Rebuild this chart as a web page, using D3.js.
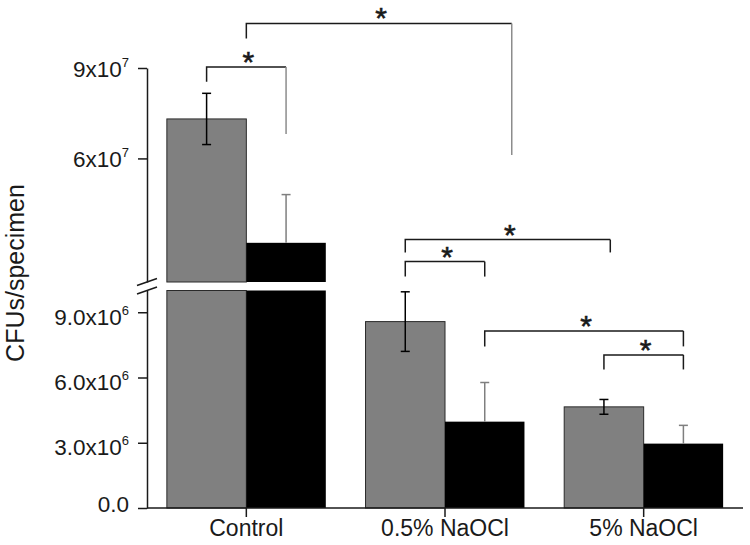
<!DOCTYPE html>
<html><head><meta charset="utf-8">
<script src="https://cdn.jsdelivr.net/npm/d3@7"></script>
<style>body{margin:0;background:#fff} svg{display:block}</style>
</head><body>
<svg id="chart" width="750" height="545"></svg>
<script>
// ---------- data ----------
const categories = ["Control", "0.5% NaOCl", "5% NaOCl"];
const seriesNames = ["Gray", "Black"];
const grayMeans = [73.1e6, 8.57e6, 4.65e6];
const graySD = [8.5e6, 1.37e6, 0.34e6];
const blackMeans = [32.0e6, 3.97e6, 2.96e6];
const blackSD = [16.0e6, 1.8e6, 0.84e6];
const upperTicks = [60e6, 90e6];
const upperTickLabels = [["6x10", "7"], ["9x10", "7"]];
const lowerTicks = [0, 3e6, 6e6, 9e6];
const lowerTickLabels = [["0.0", ""], ["3.0x10", "6"], ["6.0x10", "6"], ["9.0x10", "6"]];
const yTitle = "CFUs/specimen";
const breakLow = 10e6;   // top of lower segment
const breakHigh = 19e6;  // bottom of upper segment
const upperMax = 90e6;
// significance brackets: endpoints (category, fraction across the group), levels in CFU
const bracketFrom = [["Control", 0.5], ["Control", 0.25], ["0.5% NaOCl", 0.25], ["0.5% NaOCl", 0.25], ["0.5% NaOCl", 0.75], ["5% NaOCl", 0.25]];
const bracketTo = [["0.5% NaOCl", 0.92], ["Control", 0.75], ["5% NaOCl", 0.29], ["0.5% NaOCl", 0.75], ["5% NaOCl", 0.75], ["5% NaOCl", 0.75]];
const bracketLevel = [104.8e6, 90.3e6, 12.34e6, 11.33e6, 8.14e6, 7.04e6];
const bracketLegFrom = [99.8e6, 85.4e6, 11.75e6, 10.64e6, 7.43e6, 6.37e6];
const bracketLegTo = [61.1e6, 68.1e6, 11.75e6, 10.64e6, 7.43e6, 6.37e6];
const bracketSegment = ["upper", "upper", "lower", "lower", "lower", "lower"];
const bracketLabel = ["*", "*", "*", "*", "*", "*"];

// ---------- layout ----------
const svg = d3.select("#chart");
const FONT = "'Liberation Sans', Arial, sans-serif";
const ink = "#1a1a1a";
const x = d3.scaleBand().domain(categories).range([147, 743]).paddingInner(0.2).paddingOuter(0.1);
const xs = d3.scaleBand().domain(seriesNames).range([0, x.bandwidth()]);
const yU = d3.scaleLinear().domain([breakHigh, upperMax]).range([282, 68]);
const yL = d3.scaleLinear().domain([0, breakLow]).range([508, 290.5]);
const yAny = v => v > breakLow ? yU(v) : yL(v);

const rows = [];
categories.forEach((c, i) => {
  rows.push({cat: c, s: "Gray", v: grayMeans[i], sd: graySD[i]});
  rows.push({cat: c, s: "Black", v: blackMeans[i], sd: blackSD[i]});
});
const fillOf = s => s === "Gray" ? "#808080" : "#000000";

// bars
const gBars = svg.append("g");
rows.forEach(r => {
  const x0 = x(r.cat) + xs(r.s), w = xs.bandwidth();
  const segs = r.v > breakLow
    ? [[yU(r.v), yU(breakHigh)], [yL(breakLow), yL(0)]]
    : [[yL(r.v), yL(0)]];
  segs.forEach(([t, b]) => {
    gBars.append("rect").attr("x", x0).attr("y", t).attr("width", w).attr("height", b - t)
      .attr("fill", fillOf(r.s))
      .attr("stroke", r.s === "Gray" ? "#2a2a2a" : "none").attr("stroke-width", 1);
  });
});

// error bars
const gErr = svg.append("g");
rows.forEach(r => {
  const cx = x(r.cat) + xs(r.s) + xs.bandwidth() / 2;
  const yTop = yAny(r.v + r.sd), yMean = yAny(r.v), yBot = yAny(r.v - r.sd);
  const col = r.s === "Gray" ? "#000" : "#7f7f7f";
  const y2 = r.s === "Gray" ? yBot : yMean;
  gErr.append("line").attr("x1", cx).attr("x2", cx).attr("y1", yTop).attr("y2", y2)
    .attr("stroke", col).attr("stroke-width", 1.5);
  gErr.append("line").attr("x1", cx - 4.5).attr("x2", cx + 4.5).attr("y1", yTop).attr("y2", yTop)
    .attr("stroke", col).attr("stroke-width", 1.5);
  if (r.s === "Gray") {
    gErr.append("line").attr("x1", cx - 4.5).attr("x2", cx + 4.5).attr("y1", yBot).attr("y2", yBot)
      .attr("stroke", col).attr("stroke-width", 1.5);
  }
});

// axes
function styleAxis(g) {
  g.selectAll("path,line").attr("stroke", ink).attr("stroke-width", 1.5);
  g.selectAll("text").attr("fill", ink).attr("font-family", FONT);
}
function supLabels(g, labels, offsets) {
  g.selectAll(".tick text").each(function(d, i) {
    const t = d3.select(this);
    t.text(null).attr("font-size", 22.5).attr("dy", null).attr("y", offsets[i]);
    t.append("tspan").text(labels[i][0]);
    if (labels[i][1]) t.append("tspan").attr("dy", -10).attr("font-size", 13).text(labels[i][1]);
  });
}
const gYU = svg.append("g").attr("transform", "translate(147,0)")
  .call(d3.axisLeft(yU).tickValues(upperTicks).tickSize(9).tickSizeOuter(0).tickPadding(9));
styleAxis(gYU);
supLabels(gYU, upperTickLabels, [8, 8]);

const gYL = svg.append("g").attr("transform", "translate(147,0)")
  .call(d3.axisLeft(yL).tickValues(lowerTicks).tickSize(9).tickSizeOuter(0).tickPadding(9));
styleAxis(gYL);
supLabels(gYL, lowerTickLabels, [3, 12, 12, 12]);

const gX = svg.append("g").attr("transform", "translate(0,508)")
  .call(d3.axisBottom(x).tickSize(9).tickSizeOuter(0).tickPadding(3));
styleAxis(gX);
gX.selectAll(".tick text").attr("font-size", 23);
gX.select(".domain").attr("d", `M147,0H${x.range()[1]}`);

// axis break marks
[yU(breakHigh), yL(breakLow)].forEach(yb => {
  svg.append("line").attr("x1", 137).attr("y1", yb + 3.5).attr("x2", 157).attr("y2", yb - 3.5)
    .attr("stroke", ink).attr("stroke-width", 1.5);
});

// y title
svg.append("text").attr("transform", "translate(24,273) rotate(-90)")
  .attr("text-anchor", "middle").attr("font-family", FONT).attr("font-size", 25)
  .attr("fill", ink).text(yTitle);

// brackets
const gBr = svg.append("g");
bracketLevel.forEach((lev, i) => {
  const ys = bracketSegment[i] === "upper" ? yU : yL;
  const xa = x(bracketFrom[i][0]) + bracketFrom[i][1] * x.bandwidth();
  const xb = x(bracketTo[i][0]) + bracketTo[i][1] * x.bandwidth();
  const yl = ys(lev), ya = ys(bracketLegFrom[i]), yb = ys(bracketLegTo[i]);
  gBr.append("path").attr("d", `M${xa},${ya}V${yl}H${xb}`).attr("fill", "none")
    .attr("stroke", ink).attr("stroke-width", 1.5);
  gBr.append("line").attr("x1", xb).attr("x2", xb).attr("y1", yl).attr("y2", yb)
    .attr("stroke", bracketSegment[i] === "upper" ? "#8c8c8c" : ink).attr("stroke-width", 1.5);
  gBr.append("text").attr("x", (xa + xb) / 2 + 2).attr("y", yl + 5)
    .attr("text-anchor", "middle").attr("font-family", FONT).attr("font-size", 30)
    .attr("stroke", ink).attr("stroke-width", 0.6)
    .attr("fill", ink).text(bracketLabel[i]);
});
</script>
</body></html>
